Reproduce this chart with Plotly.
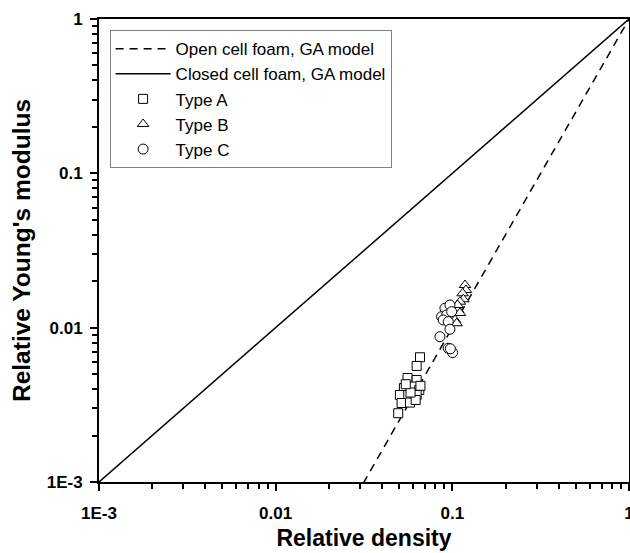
import plotly.graph_objects as go

# Type A (squares)
a_density = [0.0656, 0.0628, 0.0558, 0.0628, 0.0532, 0.0601, 0.0650, 0.0505, 0.0563,
             0.0628, 0.0516, 0.0576, 0.0620, 0.0494, 0.0580, 0.0545, 0.0660]
a_modulus = [0.00643, 0.00565, 0.00472, 0.00458, 0.00406, 0.00415, 0.00395, 0.00366, 0.00366,
             0.00366, 0.00325, 0.00327, 0.00340, 0.00279, 0.00380, 0.00430, 0.00420]

# Type B (triangles)
b_density = [0.118, 0.1194, 0.1143, 0.1155, 0.1104, 0.108, 0.1035, 0.1058, 0.1104, 0.107]
b_modulus = [0.0189, 0.01755, 0.0167, 0.01528, 0.01473, 0.01302, 0.01122, 0.01068, 0.01245, 0.01403]

# Type C (circles)
c_density = [0.0908, 0.0969, 0.0869, 0.0929, 0.0991, 0.0888, 0.0948, 0.0969, 0.0851,
             0.0948, 0.1004, 0.0975]
c_modulus = [0.01336, 0.01403, 0.01178, 0.01209, 0.0127, 0.01122, 0.01094, 0.00977, 0.00874,
             0.00735, 0.00689, 0.0073]

# Gibson-Ashby model lines
model_density = [0.001, 1.0]
open_modulus = [d ** 2 for d in model_density]
closed_modulus = [d for d in model_density]

# Tick labels
major_vals = [0.001, 0.01, 0.1, 1]
major_text = ["1E-3", "0.01", "0.1", "1"]
minor_vals = [k * 10.0 ** e for e in (-3, -2, -1) for k in range(2, 10)]
all_vals = major_vals + minor_vals
all_text = major_text + [""] * len(minor_vals)

fig = go.Figure()
fig.add_trace(go.Scatter(x=model_density, y=open_modulus, mode="lines",
                         name="Open cell foam, GA model",
                         line=dict(color="black", width=1.5, dash="8px,6px")))
fig.add_trace(go.Scatter(x=model_density, y=closed_modulus, mode="lines",
                         name="Closed cell foam, GA model",
                         line=dict(color="black", width=1.5)))
marker_line = dict(color="black", width=1)
fig.add_trace(go.Scatter(x=a_density, y=a_modulus, mode="markers", name="Type A",
                         marker=dict(symbol="square", size=9, color="white", line=marker_line)))
fig.add_trace(go.Scatter(x=b_density, y=b_modulus, mode="markers", name="Type B",
                         marker=dict(symbol="triangle-up", size=10, color="white", line=marker_line)))
fig.add_trace(go.Scatter(x=c_density, y=c_modulus, mode="markers", name="Type C",
                         marker=dict(symbol="circle", size=10, color="white", line=marker_line)))
# invisible carrier trace so the major-tick overlay axes are drawn
fig.add_trace(go.Scatter(x=model_density, y=closed_modulus, xaxis="x2", yaxis="y2",
                         mode="markers", marker=dict(size=1, opacity=0),
                         showlegend=False, hoverinfo="skip"))

axis_common = dict(
    type="log", range=[-3, 0], showgrid=False, zeroline=False, automargin=False,
    showline=True, linecolor="black", linewidth=2, mirror=True,
    ticks="outside", ticklen=5, tickwidth=1.5, tickcolor="black",
    tickmode="array", tickvals=all_vals, ticktext=all_text,
    ticklabeloverflow="allow",
    tickfont=dict(family="Liberation Sans, Arial", size=17, color="black", weight="bold"),
)
major_overlay = dict(
    type="log", range=[-3, 0], showgrid=False, zeroline=False, automargin=False,
    showline=False, showticklabels=False, visible=True,
    tickmode="array", tickvals=major_vals,
    ticks="outside", ticklen=8, tickwidth=1.5, tickcolor="black",
)

fig.update_layout(
    width=630, height=553,
    margin=dict(l=99, r=1, t=19, b=71),
    plot_bgcolor="white", paper_bgcolor="white",
    font=dict(family="Liberation Sans, Arial", color="black"),
    xaxis=dict(axis_common, ticklabelstandoff=10,
               title=dict(text="Relative density", standoff=7,
                          font=dict(size=23, weight="bold"))),
    yaxis=dict(axis_common, ticklabelstandoff=6,
               title=dict(text="Relative Young's modulus", standoff=9,
                          font=dict(size=24.5, weight="bold"))),
    xaxis2=dict(major_overlay, overlaying="x", anchor="y", side="bottom"),
    yaxis2=dict(major_overlay, overlaying="y", anchor="x", side="left"),
    legend=dict(x=0.02, y=0.976, xanchor="left", yanchor="top",
                bgcolor="white", bordercolor="#808080", borderwidth=1,
                font=dict(size=17, color="black"), tracegroupgap=0,
                itemwidth=55),
    showlegend=True,
)

fig.write_html("out.html", config={"displayModeBar": False},
               post_script="document.body.style.margin='0';document.body.style.overflow='hidden';")
